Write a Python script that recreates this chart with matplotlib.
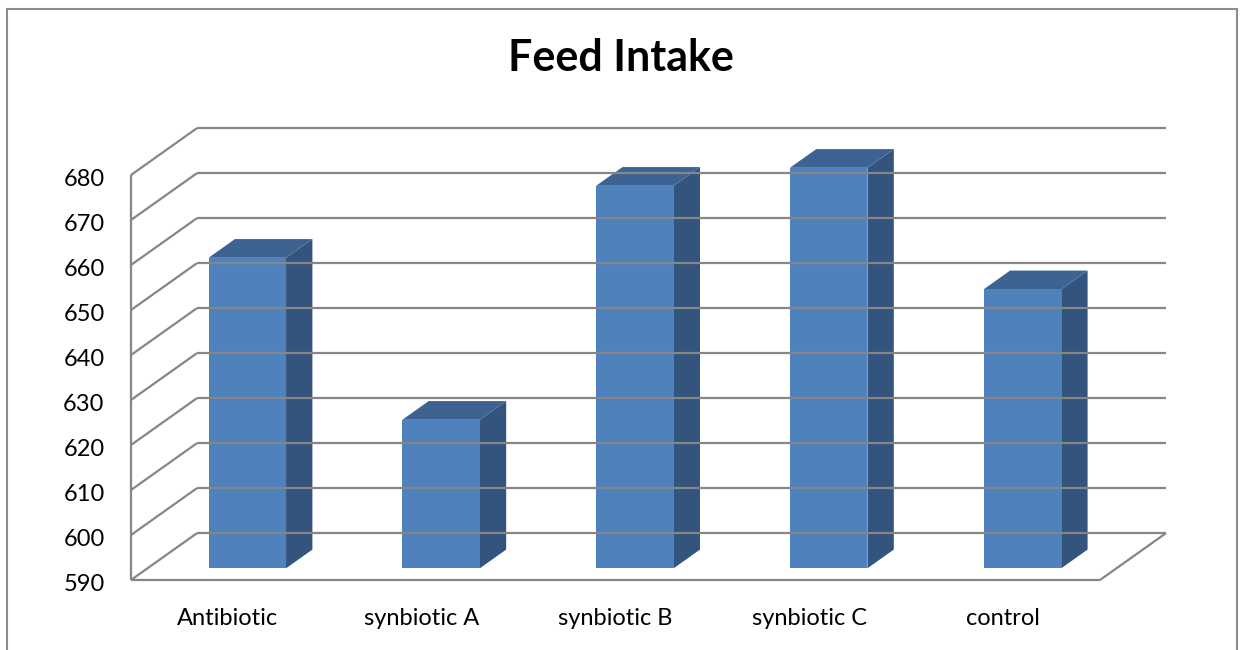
import matplotlib.pyplot as plt
from matplotlib.patches import Polygon, Rectangle

plt.rcParams['font.family'] = ['Lato', 'DejaVu Sans']

# feed intake per treatment
groups = ['Antibiotic', 'synbiotic A', 'synbiotic B', 'synbiotic C', 'control']
intake = [659, 623, 675, 679, 652]
yticks = list(range(590, 681, 10))

YMIN, YMAX = 590, 680
# oblique depth offset of the box, in data units (full depth)
DX, DY = 0.34, 10.4
BAR_W = 0.4
F0, F1 = 0.25, 0.65          # bar front/back depth fractions

grid_c = '#868686'
front_c = '#4f81bd'
top_c = '#3d6392'
side_c = '#33547c'

fig = plt.figure(figsize=(12.41, 6.5), dpi=100)
ax = fig.add_axes([131/1241, 70/650, 969/1241, 405/650])
ax.set_xlim(-0.5, len(groups) - 0.5)
ax.set_ylim(YMIN, YMAX)
ax.axis('off')

def p(x, y, f):
    return (x + DX*f, y + DY*f)

x0, x1 = -0.5, len(groups) - 0.5
kw = dict(color=grid_c, lw=1.6, clip_on=False, solid_capstyle='butt')

# walls: left side diagonals + back gridlines
for v in yticks:
    a, b = p(x0, v, 0), p(x0, v, 1)
    ax.plot([a[0], b[0]], [a[1], b[1]], **kw)
    c = p(x1, v, 1)
    ax.plot([b[0], c[0]], [b[1], c[1]], **kw)
# front vertical axis
ax.plot([x0, x0], [YMIN, YMAX], **kw)
# floor front edge and right edge
ax.plot([x0, x1], [YMIN, YMIN], **kw)
a, b = p(x1, YMIN, 0), p(x1, YMIN, 1)
ax.plot([a[0], b[0]], [a[1], b[1]], **kw)

# bars
for i, v in enumerate(intake):
    l, r = i - BAR_W/2 + 0.015, i + BAR_W/2 + 0.015
    side = [p(r, YMIN, F0), p(r, YMIN, F1), p(r, v, F1), p(r, v, F0)]
    top = [p(l, v, F0), p(r, v, F0), p(r, v, F1), p(l, v, F1)]
    ax.add_patch(Polygon(side, closed=True, fc=side_c, ec='none', clip_on=False))
    ax.add_patch(Polygon(top, closed=True, fc=top_c, ec='none', clip_on=False))
    fl, fb = p(l, YMIN, F0)
    ax.add_patch(Rectangle((fl, fb), BAR_W, v - YMIN, fc=front_c, ec='none',
                           clip_on=False))

# tick labels
for v in yticks:
    ax.annotate(str(v), (x0, v), xytext=(-19, -3), textcoords='offset points',
                ha='right', va='center', fontsize=17, color='black')
for i, g in enumerate(groups):
    ax.annotate(g, (i, YMIN), xytext=(0, -28), textcoords='offset points',
                ha='center', va='center', fontsize=17, color='black')

fig.text(621/1241, 1 - 58/650, 'Feed Intake', ha='center', va='center',
         fontsize=31, fontweight='bold')

# chart area border
fig.add_artist(Rectangle((7/1241, -0.05), 1230/1241, 1.05 - 9/650,
                         transform=fig.transFigure, fc='none', ec='#8c8c8c',
                         lw=1.5))

fig.savefig('out.png', dpi=100)
